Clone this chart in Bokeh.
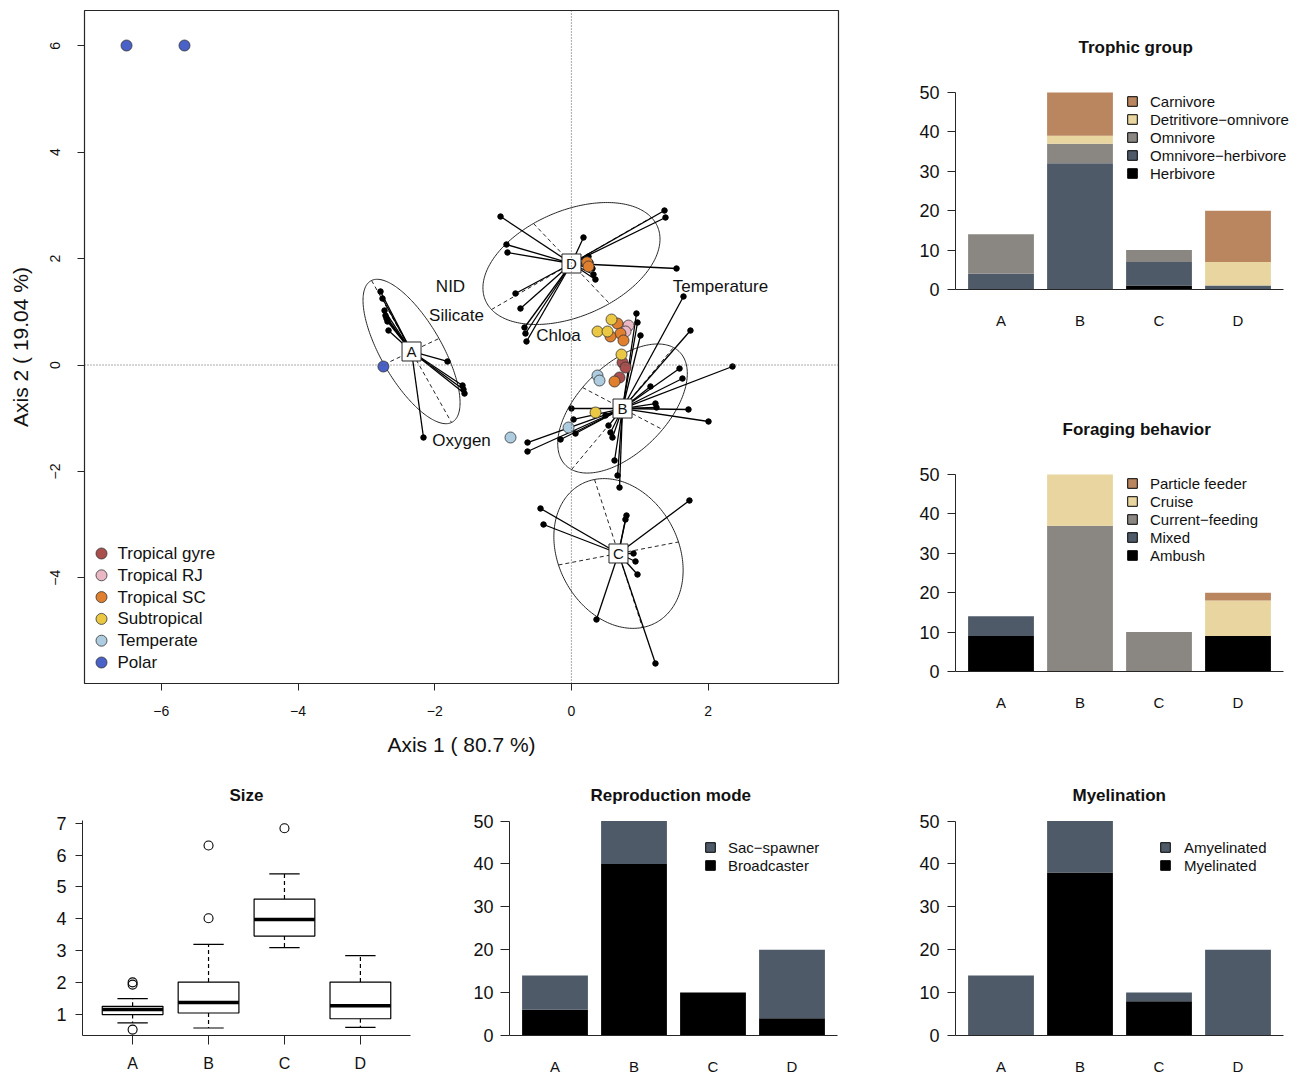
import numpy as np
from bokeh.plotting import figure
from bokeh.models import (Range1d, FixedTicker, ColumnDataSource,
                          Span, Legend, LegendItem)
from bokeh.layouts import row, column
from bokeh.embed import file_html
from bokeh.resources import INLINE
from bokeh.core.properties import value

FONT = "Liberation Sans"
INK = "#262626"

groups = ["A", "B", "C", "D"]

# ---------------- ordination panel ----------------
centroid_x = [-2.339, 0.748, 0.689, 0.001]
centroid_y = [0.254, -0.818, -3.543, 1.908]
# conjugate semi-axes of each group ellipse (data units)
ellipse_ux = [0.585, 0.746, 0.351, 1.170]
ellipse_uy = [-1.335, 1.147, -1.391, 0.865]
ellipse_vx = [0.402, 0.585, 0.878, 0.556]
ellipse_vy = [0.244, -0.395, 0.216, -0.752]

a_x = [-2.793, -2.764, -2.734, -2.720, -2.705, -2.691, -2.676, -1.813, -1.593, -1.579, -1.564, -2.164]
a_y = [1.382, 1.250, 1.024, 0.930, 0.874, 0.818, 0.649, 0.066, -0.385, -0.461, -0.536, -1.363]
b_x = [0.952, 0.967, 1.011, 1.640, 1.742, 2.357, 1.582, 1.625, 1.157, 1.230, 1.245, 1.713, 2.006,
       0.001, 0.031, 0.060, -0.159, -0.642, -0.642, 0.499, 0.543, 0.572, 0.601, 0.631, 0.675, 0.704]
b_y = [0.968, 0.799, 0.555, 1.288, 0.648, -0.028, -0.066, -0.254, -0.404, -0.724, -0.799, -0.836, -1.062,
       -0.818, -1.024, -1.288, -1.400, -1.457, -1.626, -0.949, -1.138, -1.269, -1.363, -1.795, -2.077, -2.303]
c_x = [-0.452, -0.408, 0.806, 0.791, 1.727, 0.909, 0.938, 0.967, 0.367, 1.230]
c_y = [-2.697, -2.998, -2.829, -2.904, -2.547, -3.543, -3.693, -3.938, -4.784, -5.611]
d_x = [-1.037, -0.950, -0.935, 0.177, 1.362, 1.377, 1.538, -0.818, -0.745, -0.686, -0.672, -0.657,
       0.250, 0.279, 0.308, 0.323, 0.352]
d_y = [2.791, 2.265, 2.115, 2.397, 2.904, 2.773, 1.814, 1.344, 1.062, 0.705, 0.592, 0.442,
       2.039, 1.927, 1.814, 1.701, 1.607]

site_names = ["Tropical gyre", "Tropical RJ", "Tropical SC", "Subtropical", "Temperate", "Polar"]
site_colors = ["#A9504F", "#E9B8C4", "#E07F2E", "#EBC844", "#ADCCE0", "#4A62C8"]
gyre_x = [0.748, 0.792, 0.704]
gyre_y = [0.047, -0.047, -0.235]
rj_x = [0.806, 0.835, 0.792]
rj_y = [0.705, 0.742, 0.630]
sc_x = [0.674, 0.718, 0.572, 0.762, 0.631, 0.230, 0.250]
sc_y = [0.780, 0.592, 0.536, 0.461, -0.310, 1.932, 1.852]
subtrop_x = [0.587, 0.382, 0.528, 0.733, 0.353]
subtrop_y = [0.855, 0.630, 0.630, 0.197, -0.893]
temperate_x = [-0.891, 0.382, 0.411, -0.042]
temperate_y = [-1.363, -0.197, -0.292, -1.175]
polar_x = [-6.509, -5.661, -2.751]
polar_y = [6.006, 6.006, -0.028]

env_names = ["NID", "Silicate", "Chloa", "Temperature", "Oxygen"]
env_x = [-1.769, -1.681, -0.189, 2.181, -1.608]
env_y = [1.476, 0.930, 0.555, 1.476, -1.419]

x_ticks = [-6, -4, -2, 0, 2]
y_ticks = [-4, -2, 0, 2, 4, 6]
axis1_label = "Axis 1 ( 80.7 %)"
axis2_label = "Axis 2 ( 19.04 %)"

# ---------------- trait panels ----------------
trophic_labels = ["Herbivore", "Omnivore\u2212herbivore", "Omnivore", "Detritivore\u2212omnivore", "Carnivore"]
herbivore = [0, 0, 1, 0]
omni_herbivore = [4, 32, 6, 1]
omnivore = [10, 5, 3, 0]
detritivore = [0, 2, 0, 6]
carnivore = [0, 11, 0, 13]

foraging_labels = ["Ambush", "Mixed", "Current\u2212feeding", "Cruise", "Particle feeder"]
ambush = [9, 0, 0, 9]
mixed = [5, 0, 0, 0]
current_feeding = [0, 37, 10, 0]
cruise = [0, 13, 0, 9]
particle = [0, 0, 0, 2]

repro_labels = ["Broadcaster", "Sac\u2212spawner"]
broadcaster = [6, 40, 10, 4]
sac_spawner = [8, 10, 0, 16]

myel_labels = ["Myelinated", "Amyelinated"]
myelinated = [0, 38, 8, 0]
amyelinated = [14, 12, 2, 20]

size_low = [0.74, 0.58, 3.10, 0.60]
size_q1 = [1.00, 1.05, 3.46, 0.87]
size_med = [1.16, 1.38, 3.98, 1.28]
size_q3 = [1.26, 2.02, 4.62, 2.02]
size_high = [1.50, 3.20, 5.41, 2.85]
size_out_group = ["A", "A", "A", "B", "B", "C"]
size_out_value = [2.01, 1.94, 0.53, 6.30, 4.02, 6.84]

BLACK, SLATE, GREY, BEIGE, BROWN = "#000000", "#4E5A68", "#8A8783", "#E8D5A0", "#BA8660"


def style_axis(ax, tick_size, tick_out, standoff):
    ax.major_label_text_font = FONT
    ax.major_label_text_font_size = tick_size
    ax.major_label_text_color = "#111111"
    ax.axis_label_text_font = FONT
    ax.axis_label_text_font_style = "normal"
    ax.axis_label_text_color = "#111111"
    ax.axis_line_color = INK
    ax.major_tick_line_color = INK
    ax.major_tick_out = tick_out
    ax.major_tick_in = 0
    ax.minor_tick_line_color = None
    ax.major_label_standoff = standoff


def style_title(fig, text, align, offset, standoff):
    fig.title.text = text
    fig.title.text_font = FONT
    fig.title.text_font_size = "17px"
    fig.title.text_font_style = "bold"
    fig.title.text_color = "#111111"
    fig.title.align = align
    fig.title.offset = offset
    fig.title.standoff = standoff


# ---------------- main figure ----------------
FW, FH = 754, 673
p = figure(width=878, height=775, x_range=Range1d(-7.124, 3.908), y_range=Range1d(-5.987, 6.664),
           output_backend="svg", toolbar_location=None,
           min_border_left=84, min_border_right=40, min_border_top=10, min_border_bottom=92)
p.extra_x_ranges = {"px": Range1d(0, FW)}
p.extra_y_ranges = {"px": Range1d(FH, 0)}
p.grid.visible = False
p.outline_line_color = INK
p.outline_line_width = 1.2

p.add_layout(Span(location=0, dimension="height", line_color="#555555", line_dash="1 2", line_width=1))
p.add_layout(Span(location=0, dimension="width", line_color="#555555", line_dash="1 2", line_width=1))

t = np.linspace(0, 2 * np.pi, 241)
for i in range(len(groups)):
    cx, cy = centroid_x[i], centroid_y[i]
    ux, uy, vx, vy = ellipse_ux[i], ellipse_uy[i], ellipse_vx[i], ellipse_vy[i]
    p.line(cx + ux * np.cos(t) + vx * np.sin(t), cy + uy * np.cos(t) + vy * np.sin(t),
           line_color=INK, line_width=1)
    p.segment(x0=[cx - ux, cx - vx], y0=[cy - uy, cy - vy], x1=[cx + ux, cx + vx], y1=[cy + uy, cy + vy],
              line_color=INK, line_width=1, line_dash="4 3")

members = [(a_x, a_y), (b_x, b_y), (c_x, c_y), (d_x, d_y)]
for i, (mx, my) in enumerate(members):
    n = len(mx)
    p.segment(x0=[centroid_x[i]] * n, y0=[centroid_y[i]] * n, x1=mx, y1=my,
              line_color="black", line_width=1.3)
    p.scatter(mx, my, size=5.5, color="black")

sites = [(gyre_x, gyre_y), (rj_x, rj_y), (sc_x, sc_y), (subtrop_x, subtrop_y),
         (temperate_x, temperate_y), (polar_x, polar_y)]
for (sx, sy), col in zip(sites, site_colors):
    p.scatter(sx, sy, size=11, fill_color=col, line_color="#333333", line_width=0.8)

p.text(env_x, env_y, text=env_names, text_font=value(FONT), text_font_size="17px",
       text_align="center", text_baseline="middle", text_color="#111111")

p.rect(centroid_x, centroid_y, width=19, height=19, width_units="screen", height_units="screen",
       fill_color="white", line_color=INK, line_width=1)
p.text(centroid_x, centroid_y, text=groups, text_font=value(FONT), text_font_size="15px",
       text_align="center", text_baseline="middle", text_color="#111111")

# legend (frame pixel coordinates)
nl = len(site_names)
leg_y = 543 + 21.8 * np.arange(nl)
p.scatter(x=[17] * nl, y=leg_y, size=11, fill_color=site_colors, line_color="#333333", line_width=0.8,
          x_range_name="px", y_range_name="px")
p.text(x=[33] * nl, y=leg_y, text=site_names, text_font=value(FONT), text_font_size="17px",
       text_align="left", text_baseline="middle", text_color="#111111",
       x_range_name="px", y_range_name="px")

p.xaxis.ticker = FixedTicker(ticks=x_ticks)
p.xaxis.major_label_overrides = {v: (("\u2212" + str(abs(v))) if v < 0 else str(v)) for v in x_ticks}
p.yaxis.ticker = FixedTicker(ticks=y_ticks)
p.yaxis.major_label_overrides = {v: (("\u2212" + str(abs(v))) if v < 0 else str(v)) for v in y_ticks}
style_axis(p.xaxis[0], "14px", 7, 15)
style_axis(p.yaxis[0], "14px", 7, 17)
p.xaxis.axis_line_color = None
p.yaxis.axis_line_color = None
p.yaxis.major_label_orientation = "vertical"
p.xaxis.axis_label = axis1_label
p.yaxis.axis_label = axis2_label
p.xaxis.axis_label_text_font_size = "21px"
p.yaxis.axis_label_text_font_size = "21px"
p.xaxis.axis_label_standoff = 14
p.yaxis.axis_label_standoff = 16

# bar slots: category k centred at k + 0.5, bar width 0.833, small pad at both ends
BAR_W = 0.833
PAD = 0.076
bar_pos = np.arange(len(groups)) + 0.5


# ---------------- stacked bar panels ----------------
def stacked_panel(title, labels, series, colors, width, height, borders, legend_loc, legend_standoff,
                  title_align, title_offset, title_standoff, ytick_out, ystandoff):
    left, right, top, bottom = borders
    frame_w = width - left - right
    unit_px = 79.0
    x_end = -PAD + frame_w / unit_px
    q = figure(width=width, height=height,
               x_range=Range1d(-PAD, x_end), y_range=Range1d(0, 52),
               output_backend="svg", toolbar_location=None,
               min_border_left=left, min_border_right=right, min_border_top=top, min_border_bottom=bottom)
    q.grid.visible = False
    q.outline_line_color = None
    base = np.zeros(len(groups))
    items = []
    for lab, vals, col in zip(labels, series, colors):
        vals = np.asarray(vals, dtype=float)
        src = ColumnDataSource(dict(x=bar_pos, bottom=base, top=base + vals))
        q.vbar(x="x", bottom="bottom", top="top", width=BAR_W, source=src, fill_color=col, line_color=None)
        proxy = q.vbar(x=[bar_pos[0]], bottom=[0], top=[0], width=0, fill_color=col,
                       line_color="black", line_width=1)
        items.append(LegendItem(label=lab, renderers=[proxy]))
        base = base + vals
    items.reverse()
    leg = Legend(items=items, location=legend_loc, padding=0, spacing=0, margin=0,
                 glyph_width=12, glyph_height=12, label_height=18, label_standoff=legend_standoff,
                 background_fill_alpha=0, border_line_color=None,
                 label_text_font=FONT, label_text_font_size="15px", label_text_color="#111111")
    q.add_layout(leg)
    q.yaxis.ticker = FixedTicker(ticks=[0, 10, 20, 30, 40, 50])
    q.yaxis.bounds = (0, 50)
    q.xaxis.ticker = FixedTicker(ticks=list(bar_pos))
    q.xaxis.major_label_overrides = {float(k): g for k, g in zip(bar_pos, groups)}
    q.xaxis.bounds = (-PAD, len(groups) + PAD)
    style_axis(q.yaxis[0], "18px", ytick_out, ystandoff)
    style_axis(q.xaxis[0], "15px", 0, 22)
    q.xaxis.major_tick_line_color = None
    style_title(q, title, title_align, title_offset, title_standoff)
    return q


p_troph = stacked_panel("Trophic group", trophic_labels,
                        [herbivore, omni_herbivore, omnivore, detritivore, carnivore],
                        [BLACK, SLATE, GREY, BEIGE, BROWN],
                        423, 388, (77, 10, 84, 99), (171, 107), 12, "left", 123, 55, 8, 8)
p_forag = stacked_panel("Foraging behavior", foraging_labels,
                        [ambush, mixed, current_feeding, cruise, particle],
                        [BLACK, SLATE, GREY, BEIGE, BROWN],
                        423, 387, (77, 10, 78, 104), (171, 107), 12, "left", 107, 55, 8, 8)
p_repro = stacked_panel("Reproduction mode", repro_labels, [broadcaster, sac_spawner], [BLACK, SLATE],
                        425, 302, (64, 25, 37, 41), (195, 161), 12, "left", 81, 15, 9, 7)
p_myel = stacked_panel("Myelination", myel_labels, [myelinated, amyelinated], [BLACK, SLATE],
                       431, 302, (85, 10, 37, 41), (204, 161), 13, "left", 117, 15, 8, 8)

# ---------------- size boxplot ----------------
pb = figure(width=445, height=302, x_range=Range1d(0.34, 4.66), y_range=Range1d(0.345, 7.334),
            output_backend="svg", toolbar_location=None,
            min_border_left=82, min_border_right=35, min_border_top=37, min_border_bottom=41)
pb.grid.visible = False
pb.outline_line_color = None
pos = np.arange(1, len(groups) + 1, dtype=float)
gidx = {g: k + 1 for k, g in enumerate(groups)}
pb.segment(x0=pos, y0=size_q3, x1=pos, y1=size_high, line_color="black", line_width=1.2, line_dash="4 3")
pb.segment(x0=pos, y0=size_q1, x1=pos, y1=size_low, line_color="black", line_width=1.2, line_dash="4 3")
pb.segment(x0=pos - 0.2, y0=size_high, x1=pos + 0.2, y1=size_high, line_color="black", line_width=1.2)
pb.segment(x0=pos - 0.2, y0=size_low, x1=pos + 0.2, y1=size_low, line_color="black", line_width=1.2)
pb.vbar(x=pos, bottom=size_q1, top=size_q3, width=0.8, fill_color="white", line_color="black", line_width=1.2)
pb.segment(x0=pos - 0.4, y0=size_med, x1=pos + 0.4, y1=size_med, line_color="black", line_width=3.5)
pb.scatter([gidx[g] for g in size_out_group], size_out_value, size=9, fill_color=None,
           line_color="black", line_width=1.1)
pb.xaxis.ticker = FixedTicker(ticks=list(pos))
pb.xaxis.major_label_overrides = {float(k): g for k, g in zip(pos, groups)}
pb.yaxis.ticker = FixedTicker(ticks=[1, 2, 3, 4, 5, 6, 7])
pb.yaxis.bounds = (0.345, 7.09)
style_axis(pb.xaxis[0], "16px", 9, 10)
style_axis(pb.yaxis[0], "18px", 7, 9)
style_title(pb, "Size", "center", 0, 15)

layout = column(row(p, column(p_troph, p_forag)), row(pb, p_repro, p_myel))
open("out.html", "w").write(file_html(layout, INLINE))
